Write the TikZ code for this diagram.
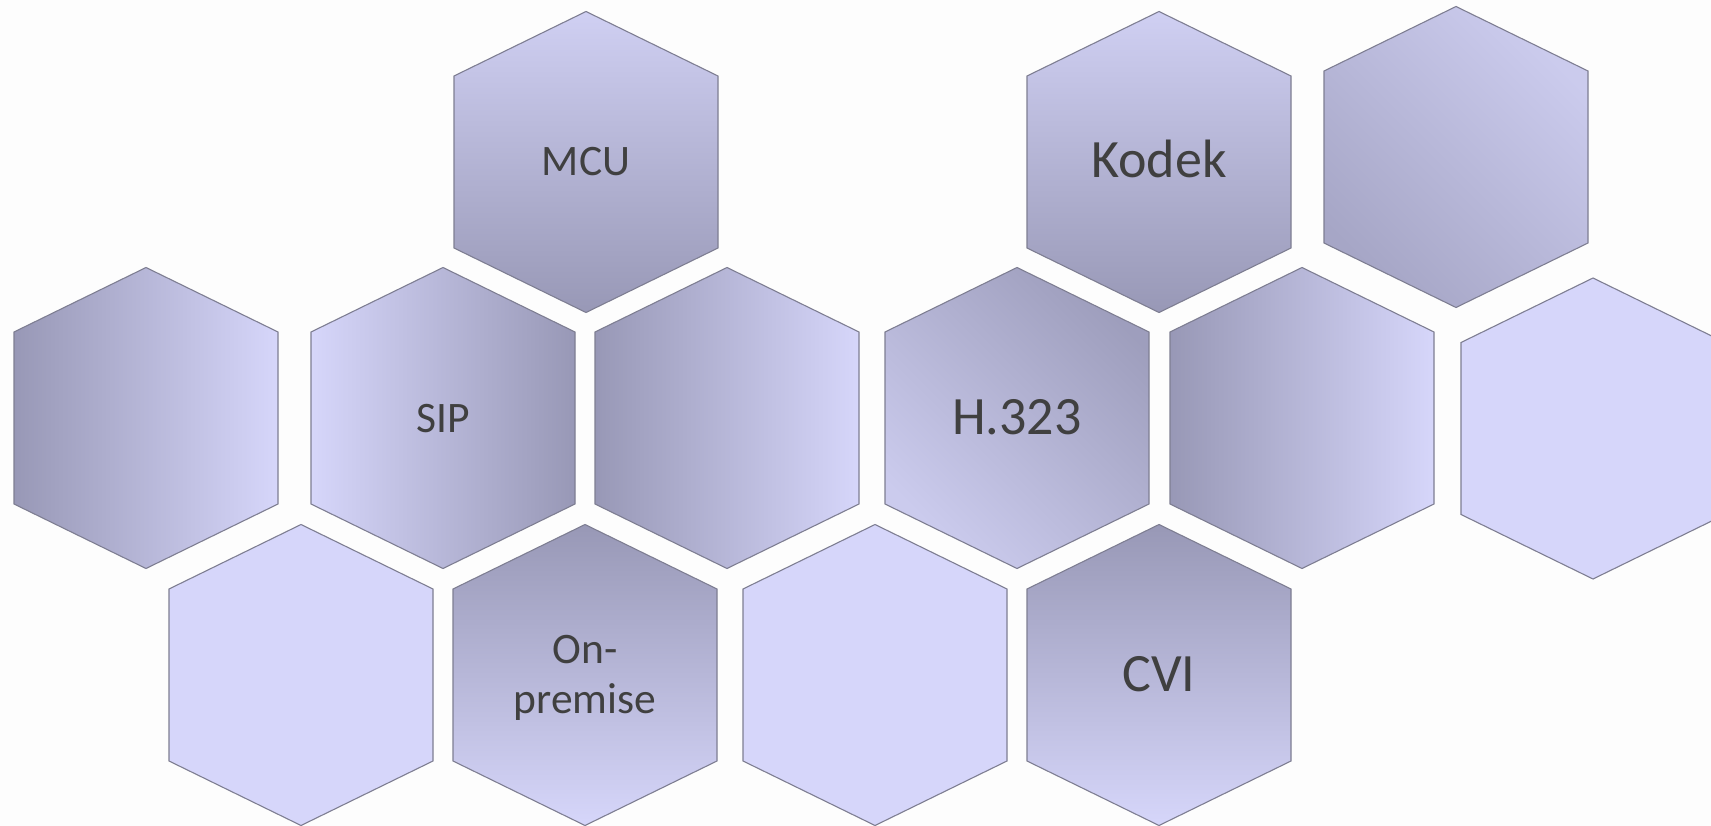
\documentclass[tikz,border=0pt]{standalone}
\usepackage{fontspec}
\setmainfont{Carlito}
\definecolor{hexlight}{HTML}{D6D6FA}
\definecolor{hexdark}{HTML}{9898B6}
\definecolor{hexmid}{HTML}{A6A6C6}
\definecolor{hexedge}{HTML}{7E7E92}
\definecolor{txt}{HTML}{404040}
\definecolor{bg}{HTML}{FDFDFD}
\tikzset{
  hexbox/.style={draw=hexedge, line width=1.1pt, line join=miter},
  flat/.style={hexbox, fill=hexlight},
  lightdown/.style={hexbox, top color=hexlight!97!black, bottom color=hexdark},
  darkdown/.style={hexbox, top color=hexdark, bottom color=hexlight},
  darkleft/.style={hexbox, left color=hexdark, right color=hexlight},
  darkright/.style={hexbox, left color=hexlight, right color=hexdark},
  darktr/.style={hexbox, top color=hexdark!90!hexlight, bottom color=hexlight!95!black, shading angle=-45},
  darkbl/.style={hexbox, top color=hexlight!95!black, bottom color=hexmid, shading angle=-45},
  lbl/.style={text=txt, inner sep=0pt, font=\fontsize{43.5}{50}\selectfont},
  biglbl/.style={text=txt, inner sep=0pt, font=\fontsize{54}{62}\selectfont},
}
\def\hexp{(0,-150.5) -- (132,-86) -- (132,86) -- (0,150.5) -- (-132,86) -- (-132,-86) -- cycle}
\begin{document}
\begin{tikzpicture}[x=1pt,y=-1pt]
\fill[bg] (0,0) rectangle (1711,826);
\clip (0,0) rectangle (1711,826);
% top row
\shadedraw[lightdown, shift={(586,162)}] \hexp;
\shadedraw[lightdown, shift={(1159,162)}] \hexp;
\shadedraw[darkbl, shift={(1456,157)}] \hexp;
% middle row
\shadedraw[darkleft, shift={(146,418)}] \hexp;
\shadedraw[darkright, shift={(443,418)}] \hexp;
\shadedraw[darkleft, shift={(727,418)}] \hexp;
\shadedraw[darktr, shift={(1017,418)}] \hexp;
\shadedraw[darkleft, shift={(1302,418)}] \hexp;
\filldraw[flat, shift={(1593,428.5)}] \hexp;
% bottom row
\filldraw[flat, shift={(301,675)}] \hexp;
\shadedraw[darkdown, shift={(585,675)}] \hexp;
\filldraw[flat, shift={(875,675)}] \hexp;
\shadedraw[darkdown, shift={(1159,675)}] \hexp;
% labels
\node[lbl, anchor=base] (mcu) at (586,175.5) {MCU};
\node[biglbl, anchor=base] (kodek) at (1159,177.3) {Kodek};
\node[lbl, anchor=base] (sip) at (443,432) {SIP};
\node[biglbl, anchor=base] (h323) at (1017,434) {H.323};
\node[lbl, align=center] (onprem) at (585,677.5) {On-\\premise};
\node[biglbl, anchor=base] (cvi) at (1159,691.3) {CVI};
\end{tikzpicture}
\end{document}
